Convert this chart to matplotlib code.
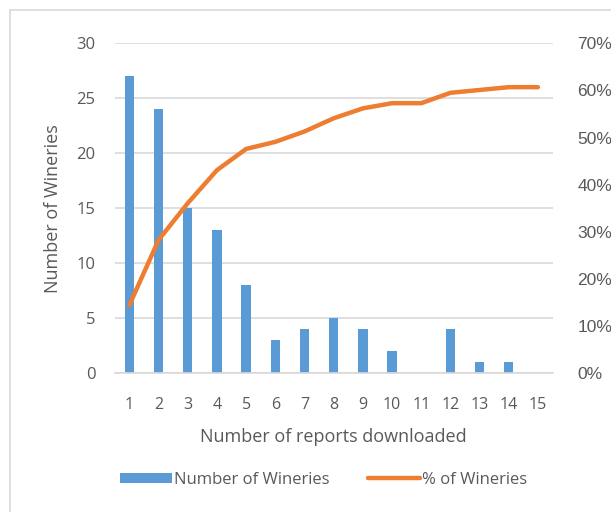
import matplotlib.pyplot as plt
from matplotlib.lines import Line2D
from matplotlib.patches import Patch, Rectangle
from matplotlib.ticker import FuncFormatter

# reports downloaded per winery
reports = list(range(1, 16))
wineries = [27, 24, 15, 13, 8, 3, 4, 5, 4, 2, 0, 4, 1, 1, 0]
pct_wineries = [14.5, 28.3, 36.1, 43.1, 47.6, 49.1, 51.3, 54.1, 56.2, 57.3,
                57.3, 59.5, 60.1, 60.7, 60.7]

BLUE = "#5B9BD5"
ORANGE = "#ED7D31"
GRID = "#D9D9D9"
TEXT = "#595959"

plt.rcParams["font.family"] = ["Open Sans", "DejaVu Sans"]

fig = plt.figure(figsize=(6.11, 5.12), dpi=100)
ax = fig.add_axes([0.188, 0.2709, 0.7163, 0.6445])
ax2 = ax.twinx()

ax.bar(reports, wineries, width=0.32, color=BLUE, zorder=2)
ax2.plot(reports, pct_wineries, color=ORANGE, linewidth=3.2,
         solid_capstyle="round", solid_joinstyle="round", zorder=3)

ax.set_xlim(0.5, 15.5)
ax.set_ylim(0, 30)
ax.set_yticks(range(0, 31, 5))
ax2.set_ylim(0, 70)
ax2.set_yticks(range(0, 71, 10))
ax2.yaxis.set_major_formatter(FuncFormatter(lambda v, _: f"{v:.0f}%"))
ax.set_xticks(reports)

ax.grid(axis="y", color=GRID, linewidth=1.2, zorder=0)
ax.set_axisbelow(True)
for a in (ax, ax2):
    for s in a.spines.values():
        s.set_visible(False)
    a.tick_params(length=0, colors=TEXT)
ax.spines["bottom"].set_visible(True)
ax.spines["bottom"].set_color(GRID)
ax.spines["bottom"].set_linewidth(1.2)

ax.tick_params(axis="y", labelsize=12, pad=14)
ax.tick_params(axis="x", labelsize=11.5, pad=17)
ax2.tick_params(axis="y", labelsize=12.5, pad=18)
for lbl in ax2.get_yticklabels():
    lbl.set_family(["Liberation Sans", "DejaVu Sans"])

ax.set_xlabel("Number of reports downloaded", fontsize=13, color=TEXT, labelpad=11)
ax.set_ylabel("Number of Wineries", fontsize=13, color=TEXT, labelpad=10)

handles = [Patch(facecolor=BLUE, edgecolor="none", label="Number of Wineries"),
           Line2D([], [], color=ORANGE, linewidth=3.2, solid_capstyle="round",
                  label="% of Wineries")]
fig.legend(handles=handles, loc="center", bbox_to_anchor=(0.53, 0.063),
           ncol=2, frameon=False, fontsize=12, labelcolor=TEXT,
           handlelength=3.1, handleheight=0.55, handletextpad=0.15,
           columnspacing=2.3)

# chart area border
fig.patches.append(Rectangle((10 / 611, -0.1), 1.2, (502 / 512) + 0.1,
                             transform=fig.transFigure, fill=False,
                             edgecolor=GRID, linewidth=1.2))

fig.savefig("out.png", dpi=100)
